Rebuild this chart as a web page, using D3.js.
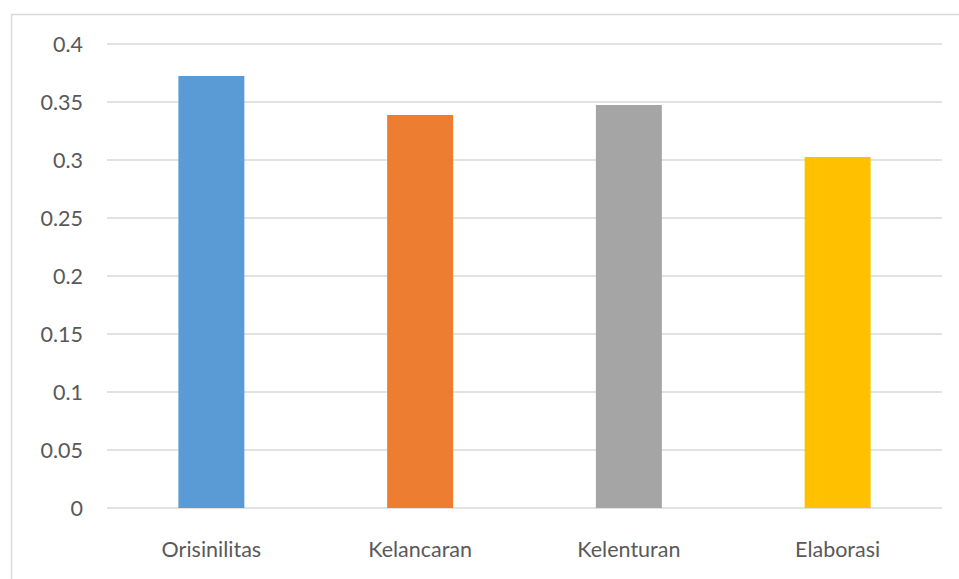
<!DOCTYPE html>
<html><head><meta charset="utf-8">
<script src="https://cdn.jsdelivr.net/npm/d3@7"></script>
<style>body{margin:0;background:#fff;}svg{display:block;}</style>
</head><body>
<script>
const categories = ["Orisinilitas","Kelancaran","Kelenturan","Elaborasi"];
const values = [0.3724, 0.3388, 0.3474, 0.3026];
const colors = ["#5B9BD5","#ED7D31","#A5A5A5","#FFC000"];
const yTicks = [0,0.05,0.1,0.15,0.2,0.25,0.3,0.35,0.4];

const W=959,H=579;
const svg=d3.select("body").append("svg").attr("width",W).attr("height",H);
svg.append("rect").attr("x",11.5).attr("y",14.5).attr("width",W-10).attr("height",H).attr("fill","#fff").attr("stroke","#d9d9d9").attr("stroke-width",1.5);

const x=d3.scaleBand().domain(categories).range([107,942]).paddingInner(0.684).paddingOuter(0.342);
const y=d3.scaleLinear().domain([0,0.4]).range([508,44]);

svg.append("g").selectAll("line").data(yTicks).join("line")
 .attr("x1",107).attr("x2",942).attr("y1",d=>y(d)).attr("y2",d=>y(d))
 .attr("stroke","#d9d9d9").attr("stroke-width",1.5);

svg.append("g").selectAll("text").data(yTicks).join("text")
 .attr("x",83).attr("y",d=>y(d)).attr("dy","0.35em").attr("text-anchor","end")
 .attr("font-family","Lato, 'Open Sans', sans-serif").attr("font-size",21.5).attr("fill","#595959")
 .text(d=>d3.format("~g")(d));

svg.append("g").selectAll("rect").data(categories).join("rect")
 .attr("x",d=>x(d)).attr("width",x.bandwidth())
 .attr("y",(d,i)=>y(values[i])).attr("height",(d,i)=>y(0)-y(values[i]))
 .attr("fill",(d,i)=>colors[i]);

svg.append("g").selectAll("text").data(categories).join("text")
 .attr("x",d=>x(d)+x.bandwidth()/2).attr("y",549).attr("dy","0.35em").attr("text-anchor","middle")
 .attr("font-family","Lato, 'Open Sans', sans-serif").attr("font-size",21.5).attr("fill","#595959")
 .text(d=>d);
</script>
</body></html>
